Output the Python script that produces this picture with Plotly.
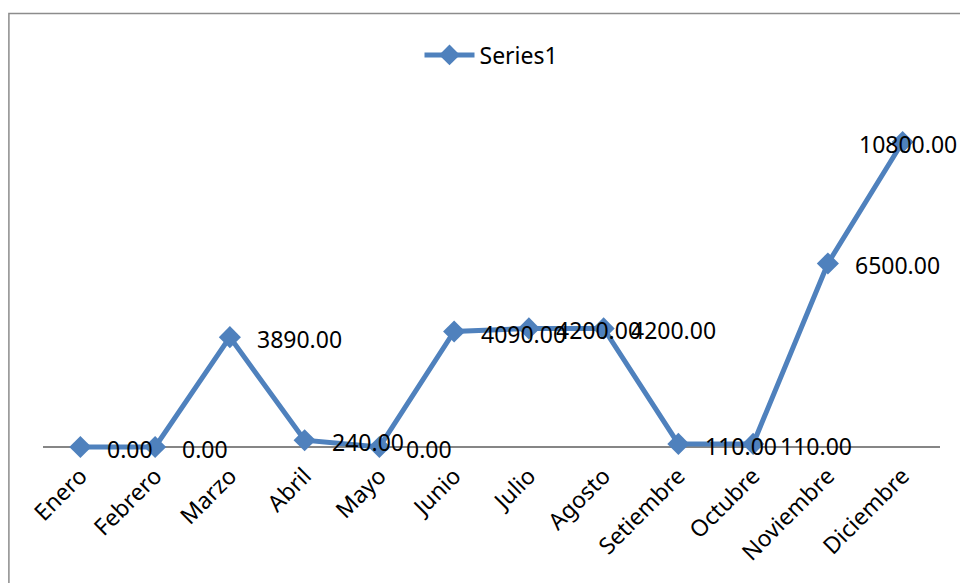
import plotly.graph_objects as go

# Monthly values
months = ["Enero", "Febrero", "Marzo", "Abril", "Mayo", "Junio", "Julio",
          "Agosto", "Setiembre", "Octubre", "Noviembre", "Diciembre"]
values = [0, 0, 3890, 240, 0, 4090, 4200, 4200, 110, 110, 6500, 10800]
series_name = "Series1"

W, H = 960, 583
ML, MR, MT, MB = 42.6, 20.4, 60, 126
PW, PH = W - ML - MR, H - MT - MB

# vertical scale: 10800 spans 305 px, zero sits 10 px above the plot bottom
PX_PER_UNIT = 305 / 10800
Y_MIN = -10 / PX_PER_UNIT
Y_MAX = (PH - 10) / PX_PER_UNIT

BLUE = "#4F81BD"
FONT = "Noto Sans"

fig = go.Figure()
fig.add_trace(go.Scatter(
    x=list(range(len(months))), y=values, name=series_name,
    mode="lines+markers",
    line=dict(color=BLUE, width=5),
    marker=dict(symbol="diamond", size=17, color=BLUE),
    cliponaxis=False,
))

# value labels to the right of each point; the last one is pulled back
# so it stays inside the page
annotations = []
for i, v in enumerate(values):
    last = i == len(values) - 1
    annotations.append(dict(
        x=i, y=v, xref="x", yref="y", text=f"{v:.2f}", showarrow=False,
        xanchor="right" if last else "left", yanchor="middle",
        xshift=56 if last else 25, yshift=-2,
        font=dict(family=FONT, size=23, color="black")))

# outer chart border (partly off the page on the right and bottom)
bx0 = (8.5 - ML) / PW
by1 = 1 + (MT - 13.5) / PH
shapes = [dict(type="rect", xref="paper", yref="paper",
               x0=bx0, x1=1 + (MR + 5) / PW, y0=-(MB + 5) / PH, y1=by1,
               line=dict(color="#8C8C8C", width=1.5), layer="below")]

fig.update_layout(
    width=W, height=H,
    margin=dict(l=ML, r=MR, t=MT, b=MB, autoexpand=False),
    paper_bgcolor="white", plot_bgcolor="white",
    font=dict(family=FONT, color="black"),
    showlegend=True,
    legend=dict(x=0.5, xanchor="center", y=1 + (MT - 55) / PH, yanchor="middle",
                orientation="h", font=dict(family=FONT, size=23, color="black"),
                bgcolor="rgba(0,0,0,0)", itemwidth=50),
    xaxis=dict(range=[-0.5, len(months) - 0.5], tickmode="array",
               tickvals=list(range(len(months))), ticktext=months,
               tickangle=-45, tickfont=dict(family=FONT, size=23, color="black"),
               showgrid=False, zeroline=False, showline=False, ticks="",
               automargin=False),
    yaxis=dict(range=[Y_MIN, Y_MAX], showgrid=False, showticklabels=False,
               zeroline=True, zerolinecolor="#868686", zerolinewidth=2,
               showline=False, ticks="", automargin=False),
    annotations=annotations,
    shapes=shapes,
)

fig.write_html("out.html")
